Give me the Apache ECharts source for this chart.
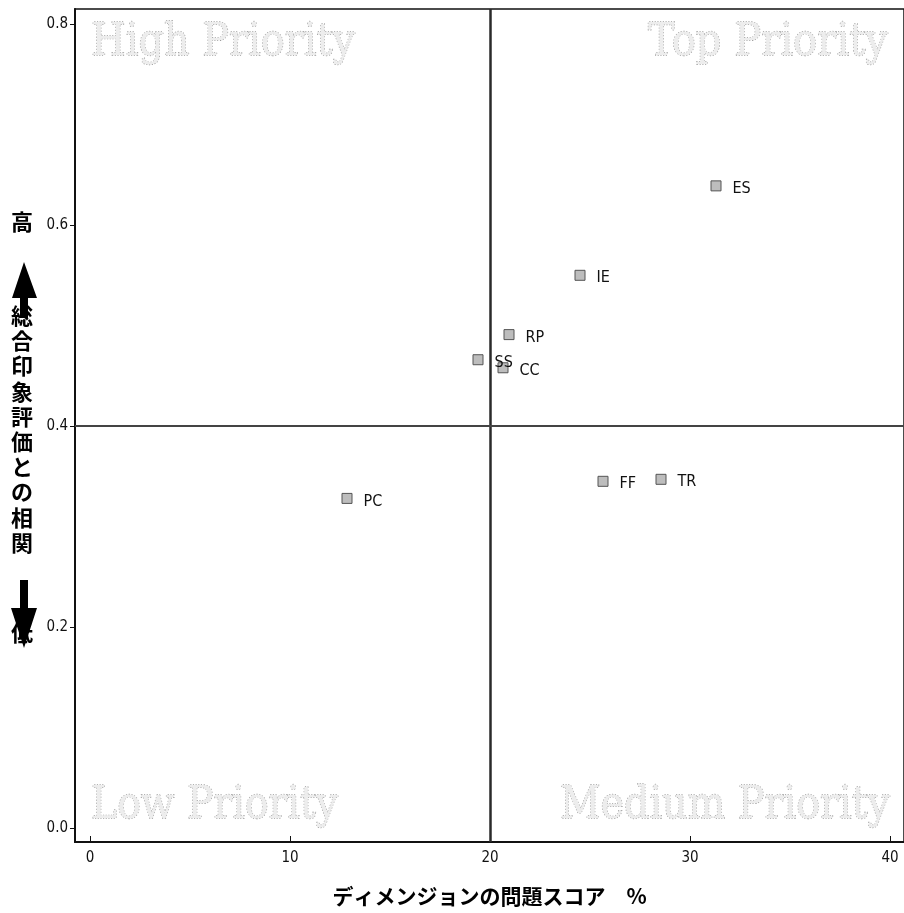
<!DOCTYPE html>
<html><head><meta charset="utf-8">
<script src="https://cdn.jsdelivr.net/npm/echarts@6/dist/echarts.min.js"></script>
<style>html,body{margin:0;padding:0;background:#fff}#c{width:904px;height:913px}</style>
</head><body><div id="c"></div>
<script>
const codes = ['ES','IE','RP','SS','CC','FF','TR','PC'];
const problemScore = [31.3, 24.5, 20.95, 19.4, 20.65, 25.65, 28.55, 12.85];
const correlation = [0.639, 0.550, 0.491, 0.466, 0.458, 0.345, 0.347, 0.328];
const xTicks = [0, 10, 20, 30, 40];
const yTicks = [0, 0.2, 0.4, 0.6, 0.8];
const xThreshold = 20;
const yThreshold = 0.4;
const xTitle = 'ディメンジョンの問題スコア　%';
const yTitle = '総合印象評価との相関';
const quadrantNames = ['High Priority','Top Priority','Low Priority','Medium Priority'];

const chart = echarts.init(document.getElementById('c'));
const narrow = "'Liberation Sans Narrow','DejaVu Sans Condensed','Noto Sans CJK JP',sans-serif";
const qFont = "34px 'DejaVu Serif','Liberation Serif',serif";
const ctx = document.createElement('canvas').getContext('2d');
ctx.font = qFont;
// [left, top, width] layout boxes for the quadrant captions
const qBoxes = [[91, 21, 264], [648, 21, 240], [91, 784, 247], [560, 784, 330]];
const qText = (t, box) => ({
  type: 'text', x: box[0], y: box[1],
  scaleX: box[2] / ctx.measureText(t).width, scaleY: 1.32,
  silent: true,
  style: { text: t, font: qFont, verticalAlign: 'top', align: 'left',
    fill: '#ededed', stroke: '#9c9c9c', lineWidth: 1, lineDash: [1, 1.3] }
});
chart.setOption({
  animation: false,
  backgroundColor: '#fff',
  grid: { left: 75, top: 9, right: 0, bottom: 71, show: true, borderColor: '#111', borderWidth: 1.5 },
  xAxis: {
    type: 'value', min: -0.75, max: 40.7,
    splitLine: { show: false },
    axisLine: { onZero: false, lineStyle: { color: '#111', width: 2 } },
    axisTick: { customValues: xTicks, inside: true, length: 6, lineStyle: { color: '#111' } },
    axisLabel: { customValues: xTicks, color: '#111', fontSize: 15, fontFamily: narrow, margin: 9 },
    name: xTitle, nameLocation: 'middle', nameGap: 44,
    nameTextStyle: { color: '#000', fontSize: 21, fontWeight: 'bold', fontFamily: "'Noto Sans CJK JP',sans-serif" }
  },
  yAxis: {
    type: 'value', min: -0.0139, max: 0.815,
    splitLine: { show: false },
    axisLine: { onZero: false, lineStyle: { color: '#111', width: 2 } },
    axisTick: { customValues: yTicks, length: 5, lineStyle: { color: '#111' } },
    axisLabel: { customValues: yTicks, color: '#111', fontSize: 15, fontFamily: narrow, margin: 7,
      formatter: v => v.toFixed(1) }
  },
  series: [{
    type: 'scatter',
    data: problemScore.map((x, i) => [x, correlation[i], codes[i]]),
    symbol: 'rect', symbolSize: 10,
    itemStyle: { color: '#bdbdbd', borderColor: '#555', borderWidth: 1, opacity: 1 },
    label: { show: true, position: 'right', distance: 11, formatter: p => p.data[2],
      color: '#111', fontSize: 16, fontFamily: narrow, offset: [0, 3] },
    markLine: {
      silent: true, symbol: 'none', label: { show: false },
      data: [
        { xAxis: xThreshold, lineStyle: { color: '#2a2a2a', width: 2.5, type: 'solid' } },
        { yAxis: yThreshold, lineStyle: { color: '#444', width: 2, type: 'solid' } }
      ]
    }
  }],
  graphic: [
    qText(quadrantNames[0], qBoxes[0]),
    qText(quadrantNames[1], qBoxes[1]),
    qText(quadrantNames[2], qBoxes[2]),
    qText(quadrantNames[3], qBoxes[3]),
    { type: 'text', left: 11, top: 211, style: { text: '高', font: "bold 22px 'Noto Sans CJK JP',sans-serif", fill: '#000' } },
    { type: 'polygon', shape: { points: [[24,262],[12,298],[20,298],[20,318],[28,318],[28,298],[37,298]] }, style: { fill: '#000' } },
    { type: 'text', left: 11, top: 303, style: { text: yTitle.split('').join('\n'), font: "bold 22px 'Noto Sans CJK JP',sans-serif", lineHeight: 25.2, fill: '#000' } },
    { type: 'polygon', shape: { points: [[20,580],[28,580],[28,608],[37,608],[24,648],[11,608],[20,608]] }, style: { fill: '#000' } },
    { type: 'text', left: 11, top: 622, style: { text: '低', font: "bold 22px 'Noto Sans CJK JP',sans-serif", fill: '#000' } }
  ]
});
</script></body></html>
